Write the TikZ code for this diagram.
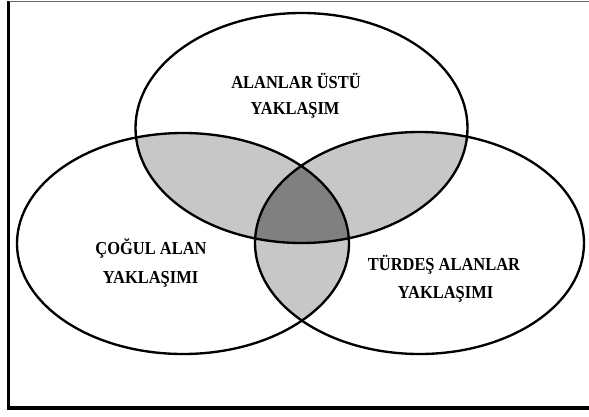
\documentclass[tikz,border=0pt]{standalone}
\usepackage{fontspec}
\setmainfont{Liberation Serif}
\newcommand{\vennSquash}[1]{\scalebox{0.9}[1]{#1}}
\begin{document}
\begin{tikzpicture}[
                x=0.03cm,y=-0.03cm,
                vennLine/.style={draw=black,line width=2pt},
                vennPair/.style={fill=black!22},
                vennCore/.style={fill=black!50},
                vennFrame/.style={draw=black,line width=2.8pt},
                vennLabel/.style={anchor=base,inner sep=0pt,
                                  font=\fontsize{15.6pt}{18pt}\selectfont\bfseries}]
                \useasboundingbox (0,0) rectangle (589,416);

                % Frame (the right side is cut off in the reference).
                \coordinate (fTL) at (8.5,1);
                \coordinate (fBL) at (8.5,408);
                \coordinate (fBR) at (589,408);
                \coordinate (fTR) at (589,1);
                \draw[vennFrame] (fTL)--(fBL)--(fBR);
                \draw[draw=black!60,line width=0.6pt] (fTL)--(fTR);

                % Centres of the three sets.
                \coordinate (cU) at (301.5,128);
                \coordinate (cC) at (183,243.5);
                \coordinate (cT) at (419.5,243);
                \def\setU{(cU) ellipse [x radius=166,y radius=115]}
                \def\setC{(cC) ellipse [x radius=166,y radius=110.5]}
                \def\setT{(cT) ellipse [x radius=164.5,y radius=111]}

                % Pairwise overlaps.
                \begin{scope}
                    \clip \setU;
                    \fill[vennPair] \setC;
                    \fill[vennPair] \setT;
                \end{scope}
                \begin{scope}
                    \clip \setC;
                    \fill[vennPair] \setT;
                \end{scope}

                % Triple overlap.
                \begin{scope}
                    \clip \setU;
                    \clip \setC;
                    \fill[vennCore] \setT;
                \end{scope}

                % Outlines.
                \draw[vennLine] \setU;
                \draw[vennLine] \setC;
                \draw[vennLine] \setT;

                % Labels.
                \node[vennLabel] (uOne) at (296,88) {\vennSquash{ALANLAR ÜSTÜ}};
                \node[vennLabel] (uTwo) at (295,114) {\vennSquash{YAKLAŞIM}};
                \node[vennLabel] (cOne) at (151,254) {\vennSquash{ÇOĞUL ALAN}};
                \node[vennLabel] (cTwo) at (150.5,283) {\vennSquash{YAKLAŞIMI}};
                \node[vennLabel] (tOne) at (444,270) {\vennSquash{TÜRDEŞ ALANLAR}};
                \node[vennLabel] (tTwo) at (445.5,298) {\vennSquash{YAKLAŞIMI}};

            \end{tikzpicture}
\end{document}
